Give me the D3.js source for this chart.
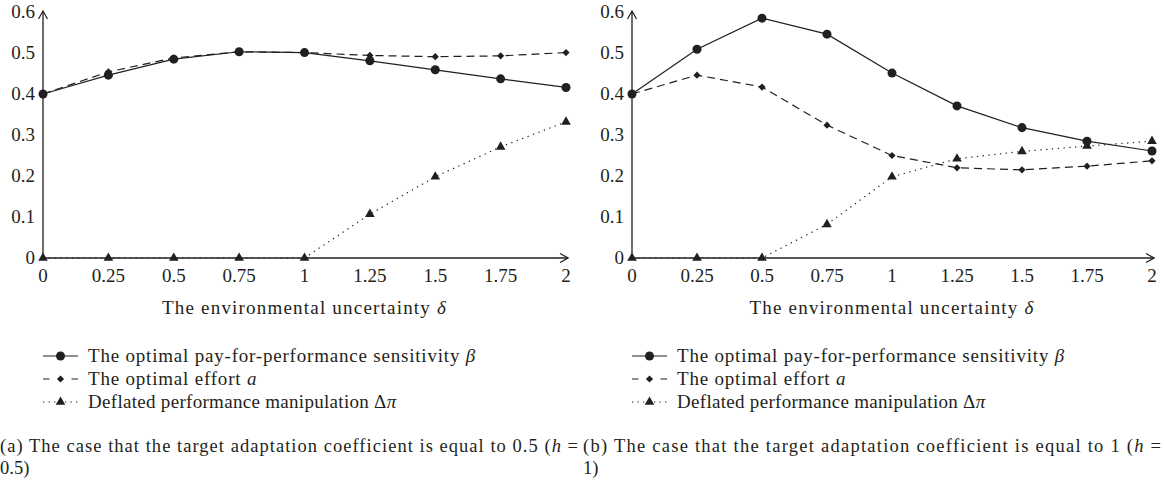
<!DOCTYPE html>
<html>
<head>
<meta charset="utf-8">
<script src="https://cdn.jsdelivr.net/npm/d3@7"></script>
<style>
  body { margin: 0; background: #fff; }
  text { font-family: "Liberation Serif", serif; fill: #231f20; }
</style>
</head>
<body>
<div id="chart"></div>
<script>
var vWidth = 1164;
var vHeight = 489;

// data
var deltas = [0, 0.25, 0.5, 0.75, 1, 1.25, 1.5, 1.75, 2];
var xTickLabels = ["0", "0.25", "0.5", "0.75", "1", "1.25", "1.5", "1.75", "2"];
var yTicks = [0, 0.1, 0.2, 0.3, 0.4, 0.5, 0.6];

var betaA = [0.400, 0.446, 0.485, 0.503, 0.501, 0.481, 0.459, 0.437, 0.416];
var effortA = [0.400, 0.454, 0.488, 0.503, 0.501, 0.494, 0.491, 0.493, 0.501];
var manipA = [0, 0, 0, 0, 0, 0.107, 0.198, 0.271, 0.332];

var betaB = [0.400, 0.509, 0.585, 0.546, 0.451, 0.371, 0.318, 0.285, 0.261];
var effortB = [0.400, 0.446, 0.417, 0.324, 0.250, 0.220, 0.215, 0.224, 0.237];
var manipB = [0, 0, 0, 0.082, 0.198, 0.242, 0.260, 0.273, 0.285];

var captionA = ["(a)  The case that the target adaptation coefficient is equal to 0.5 (", "h", " ="];
var captionB = ["(b)  The case that the target adaptation coefficient is equal to 1 (", "h", " ="];

var ink = "#231f20";

var svg = d3.select("#chart")
    .append("svg")
    .attr("width", vWidth)
    .attr("height", vHeight);

var defs = svg.append("defs");
defs.append("marker")
    .attr("id", "arrow")
    .attr("viewBox", "0 0 10 10")
    .attr("refX", 9).attr("refY", 5)
    .attr("markerWidth", 10).attr("markerHeight", 10)
    .attr("markerUnits", "userSpaceOnUse")
    .attr("orient", "auto")
    .append("path")
    .attr("d", "M1,0.5 L9,5 L1,9.5")
    .attr("fill", "none")
    .attr("stroke", ink)
    .attr("stroke-width", 1.2);

// symbol + extra rotation (diamond = square turned 45deg)
var circleSym = {path: d3.symbol().type(d3.symbolCircle).size(64)(), rot: 0};
var diamondSym = {path: d3.symbol().type(d3.symbolSquare).size(26)(), rot: 45};
var triSym = {path: d3.symbol().type(d3.symbolTriangle).size(40)(), rot: 0};

function drawPanel(x0, x1, beta, effort, manip, caption, captionX, captionLen, line2) {
    var g = svg.append("g");
    var x = d3.scaleLinear().domain([0, 2]).range([x0, x1]);
    var y = d3.scaleLinear().domain([0, 0.6]).range([258, 12]);

    // axes with arrow heads
    g.append("line")
        .attr("x1", x(0)).attr("x2", x(2) + 2)
        .attr("y1", y(0)).attr("y2", y(0))
        .attr("stroke", ink).attr("stroke-width", 1.3)
        .attr("marker-end", "url(#arrow)");
    g.append("line")
        .attr("x1", x(0)).attr("x2", x(0))
        .attr("y1", y(0)).attr("y2", y(0.6) - 1)
        .attr("stroke", ink).attr("stroke-width", 1.3)
        .attr("marker-end", "url(#arrow)");

    // tick labels
    g.selectAll(".ylab").data(yTicks).enter().append("text")
        .attr("x", x(0) - 8)
        .attr("y", d => y(d) + 6)
        .attr("text-anchor", "end")
        .attr("font-size", 19)
        .text(d => d === 0 ? "0" : d3.format(".1f")(d));
    g.selectAll(".xlab").data(deltas).enter().append("text")
        .attr("x", d => x(d))
        .attr("y", 282)
        .attr("text-anchor", "middle")
        .attr("font-size", 19)
        .text((d, i) => xTickLabels[i]);

    var title = g.append("text")
        .attr("x", (x0 + x1) / 2)
        .attr("y", 314)
        .attr("text-anchor", "middle")
        .attr("font-size", 19)
        .attr("letter-spacing", 1.2);
    title.append("tspan").text("The environmental uncertainty ");
    title.append("tspan").attr("font-style", "italic").text("δ");

    var series = [
        {vals: manip, dash: "1.3,4.5", sym: triSym},
        {vals: effort, dash: "8,5", sym: diamondSym},
        {vals: beta, dash: null, sym: circleSym}
    ];

    var line = d3.line().x((d, i) => x(deltas[i])).y(d => y(d));
    series.forEach(function (s) {
        g.append("path")
            .datum(s.vals)
            .attr("d", line)
            .attr("fill", "none")
            .attr("stroke", ink)
            .attr("stroke-width", 1.2)
            .attr("stroke-dasharray", s.dash);
        g.selectAll(null).data(s.vals).enter().append("path")
            .attr("d", s.sym.path)
            .attr("transform", (d, i) => "translate(" + x(deltas[i]) + "," + y(d) + ") rotate(" + s.sym.rot + ")")
            .attr("fill", ink);
    });

    // legend
    var legendRows = [
        {parts: [["The optimal pay-for-performance sensitivity ", false], ["β", true]], dash: null, sym: circleSym, ls: 0.8},
        {parts: [["The optimal effort ", false], ["a", true]], dash: "6.5,22,6.5", sym: diamondSym, ls: 0.8},
        {parts: [["Deflated performance manipulation Δ", false], ["π", true]], dash: "1.3,4.2", sym: triSym, ls: 0.3}
    ];
    var lg = g.append("g").attr("transform", "translate(" + x0 + ",356)");
    legendRows.forEach(function (r, i) {
        var ry = i * 23;
        lg.append("line")
            .attr("x1", 0).attr("x2", 35)
            .attr("y1", ry).attr("y2", ry)
            .attr("stroke", ink).attr("stroke-width", 1.2)
            .attr("stroke-dasharray", r.dash);
        lg.append("path")
            .attr("d", r.sym.path)
            .attr("transform", "translate(17.5," + ry + ") rotate(" + r.sym.rot + ")")
            .attr("fill", ink);
        var t = lg.append("text")
            .attr("x", 45)
            .attr("y", ry + 6)
            .attr("font-size", 19)
            .attr("letter-spacing", r.ls);
        r.parts.forEach(function (p) {
            t.append("tspan").attr("font-style", p[1] ? "italic" : null).text(p[0]);
        });
    });

    // caption
    var cap = g.append("text")
        .attr("x", captionX)
        .attr("y", 452)
        .attr("font-size", 18.5)
        .attr("textLength", captionLen)
        .attr("lengthAdjust", "spacing");
    cap.append("tspan").text(caption[0]);
    cap.append("tspan").attr("font-style", "italic").text(caption[1]);
    cap.append("tspan").text(caption[2]);
    g.append("text")
        .attr("x", captionX)
        .attr("y", 474)
        .attr("font-size", 18.5)
        .text(line2);
}

drawPanel(43, 566, betaA, effortA, manipA, captionA, 0, 578, "0.5)");
drawPanel(632, 1152, betaB, effortB, manipB, captionB, 583, 578, "1)");
</script>
</body>
</html>
